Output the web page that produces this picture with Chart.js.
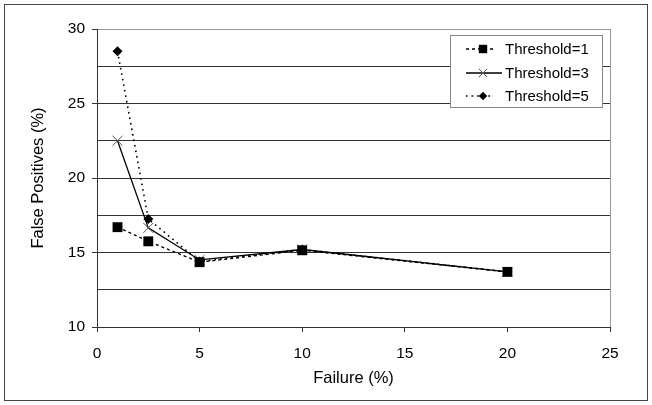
<!DOCTYPE html>
<html>
<head>
<meta charset="utf-8">
<script src="https://cdn.jsdelivr.net/npm/chart.js@4/dist/chart.umd.min.js"></script>
<style>
  html, body { margin: 0; padding: 0; background: #fff; }
  #wrap { width: 652px; height: 405px; }
</style>
</head>
<body>
<div id="wrap"><canvas id="grafica" width="652" height="405"></canvas></div>
<script>
/* ── Datos ── */
const fallos   = [1, 2.5, 5, 10, 20];            // Failure (%)
const umbral1  = [16.7, 15.75, 14.35, 15.15, 13.7];
const umbral3  = [22.5, 16.65, 14.5, 15.2, 13.7];
const umbral5  = [28.5, 17.25, 14.4, 15.2, 13.7];
const etiquetas = ["Threshold=1", "Threshold=3", "Threshold=5"];
const marcasY  = [10, 15, 20, 25, 30];
const marcasX  = [0, 5, 10, 15, 20, 25];

const puntos = serie => fallos.map((x, i) => ({ x, y: serie[i] }));

Chart.defaults.font.family = "'Liberation Sans', Arial, sans-serif";
Chart.defaults.color = "#000";

/* ── Marco exterior ── */
const marco = {
  id: "marco",
  beforeDraw(chart) {
    const c = chart.ctx;
    c.save();
    c.fillStyle = "#fff";
    c.fillRect(0, 0, chart.width, chart.height);
    c.strokeStyle = "#444";
    c.lineWidth = 1;
    c.strokeRect(4.5, 4.5, 643, 396);
    c.restore();
  },
};

/* ── Leyenda con línea + marcador ── */
const leyenda = {
  id: "leyenda",
  afterDraw(chart) {
    const c = chart.ctx;
    c.save();
    c.fillStyle = "#fff";
    c.fillRect(450.5, 35.5, 152, 72);
    c.strokeStyle = "#888";
    c.lineWidth = 1;
    c.strokeRect(450.5, 35.5, 152, 72);

    c.font = "15px 'Liberation Sans', Arial, sans-serif";
    c.textBaseline = "middle";
    chart.data.datasets.forEach((ds, i) => {
      const y = Math.round(49 + i * 23.5);
      c.strokeStyle = ds.borderColor;
      c.lineWidth = ds.borderWidth;
      c.setLineDash(ds.borderDash || []);
      c.beginPath();
      c.moveTo(466, y);
      c.lineTo(ds.borderDash ? 494 : 502, y);
      c.stroke();
      c.setLineDash([]);

      c.fillStyle = ds.pointBackgroundColor;
      c.strokeStyle = ds.pointBorderColor;
      c.lineWidth = ds.pointBorderWidth;
      Chart.helpers.drawPoint(c, {
        pointStyle: ds.pointStyle,
        radius: ds.pointRadius * 0.85,
        rotation: 0,
        borderWidth: ds.pointBorderWidth,
      }, 483, y);

      c.fillStyle = "#000";
      c.fillText(ds.label, 505, y + 0.5);
    });
    c.restore();
  },
};

/* ── Gráfica ── */
new Chart(document.getElementById("grafica"), {
  type: "scatter",
  data: {
    datasets: [
      {
        label: etiquetas[0],
        data: puntos(umbral1),
        showLine: true,
        borderColor: "#000",
        borderWidth: 1.4,
        borderDash: [3, 3],
        pointStyle: "rect",
        pointRadius: 7,
        pointBackgroundColor: "#000",
        pointBorderColor: "#000",
        pointBorderWidth: 0,
      },
      {
        label: etiquetas[1],
        data: puntos(umbral3),
        showLine: true,
        borderColor: "#000",
        borderWidth: 1.3,
        pointStyle: "crossRot",
        pointRadius: 7,
        pointBackgroundColor: "#555",
        pointBorderColor: "#555",
        pointBorderWidth: 1,
      },
      {
        label: etiquetas[2],
        data: puntos(umbral5),
        showLine: true,
        borderColor: "#000",
        borderWidth: 1.6,
        borderDash: [1.6, 4],
        pointStyle: "rectRot",
        pointRadius: 5,
        pointBackgroundColor: "#000",
        pointBorderColor: "#000",
        pointBorderWidth: 0,
      },
    ],
  },
  options: {
    responsive: false,
    animation: false,
    devicePixelRatio: 1,
    layout: { padding: { left: 0, top: 29, right: 42, bottom: 0 } },
    plugins: { legend: { display: false }, tooltip: { enabled: false } },
    elements: { line: { tension: 0 } },
    scales: {
      x: {
        type: "linear",
        min: 0, max: 25,
        afterBuildTicks: s => { s.ticks = marcasX.map(v => ({ value: v })); },
        afterFit: s => { s.height = 78; },
        border: { display: true, color: "#333", width: 1 },
        grid: {
          drawOnChartArea: true,
          color: ctx => (ctx.tick && ctx.tick.value === 25 ? "#999" : "rgba(0,0,0,0)"),
          tickColor: "#333",
          tickLength: 5,
        },
        ticks: { padding: 12, font: { size: 15.5 } },
        title: {
          display: true,
          text: "Failure (%)",
          font: { size: 16.5 },
          padding: { top: 0, bottom: 17 },
        },
      },
      y: {
        type: "linear",
        min: 10, max: 30,
        ticks: {
          stepSize: 2.5,
          padding: 7,
          font: { size: 15.5 },
          callback: v => (marcasY.includes(v) ? v : ""),
        },
        afterFit: s => { s.width = 97; },
        border: { display: true, color: "#333", width: 1 },
        grid: {
          color: ctx => (ctx.tick && ctx.tick.value === 30 ? "#999" : "#333"),
          tickColor: ctx => (ctx.tick && marcasY.includes(ctx.tick.value) ? "#333" : "rgba(0,0,0,0)"),
          tickLength: 5,
        },
        title: {
          display: true,
          text: "False Positives (%)",
          font: { size: 16.5 },
          padding: { top: 29, bottom: 0 },
        },
      },
    },
  },
  plugins: [marco, leyenda],
});
</script>
</body>
</html>
